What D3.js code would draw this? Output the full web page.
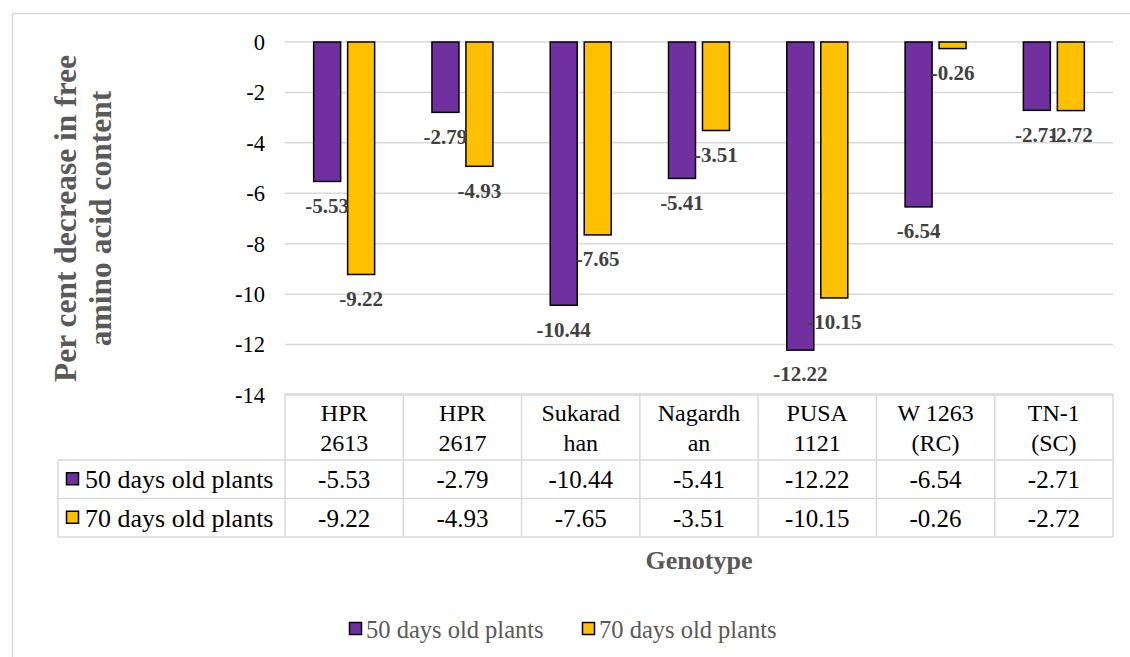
<!DOCTYPE html>
<html>
<head>
<meta charset="utf-8">
<script src="https://cdn.jsdelivr.net/npm/d3@7"></script>
<style>
  body { margin: 0; background: #fff; }
  text { font-family: "Liberation Serif", "Times New Roman", serif; }
</style>
</head>
<body>
<div class="canvas"></div>
<script>
// chart data
const genotypes = ['HPR 2613', 'HPR 2617', 'Sukaradhan', 'Nagardhan', 'PUSA 1121', 'W 1263 (RC)', 'TN-1 (SC)'];
// header cells in the data table are wrapped onto two lines
const genotypeLines = [['HPR', '2613'], ['HPR', '2617'], ['Sukarad', 'han'], ['Nagardh', 'an'],
  ['PUSA', '1121'], ['W 1263', '(RC)'], ['TN-1', '(SC)']];
const seriesNames = ['50 days old plants', '70 days old plants'];
const days50 = [-5.53, -2.79, -10.44, -5.41, -12.22, -6.54, -2.71];
const days70 = [-9.22, -4.93, -7.65, -3.51, -10.15, -0.26, -2.72];
const yTicks = [0, -2, -4, -6, -8, -10, -12, -14];
const colours = ['#7030A0', '#FFC000'];

const seriesValues = [days50, days70];

const width = 1130, height = 657;
const plot = {left: 285, right: 1113, top: 42, bottom: 395};

const svg = d3.select('.canvas')
  .append('svg')
    .attr('width', width)
    .attr('height', height);

// outer chart border (runs off the right / bottom of the picture)
svg.append('rect')
  .attr('x', 12.5).attr('y', 13.5)
  .attr('width', 1140).attr('height', 700)
  .attr('fill', 'none')
  .attr('stroke', '#d9d9d9')
  .attr('stroke-width', 1.5);

//=========== SCALES ===========
const y = d3.scaleLinear()
  .domain([-14, 0])
  .range([plot.bottom, plot.top]);

const x = d3.scaleBand()
  .domain(genotypes)
  .range([plot.left, plot.right])
  .padding(0);

// bars inside each category
const xInner = d3.scaleBand()
  .domain(seriesNames)
  .range([0, x.bandwidth()])
  .paddingInner(0.206)
  .paddingOuter(0.843);

//=========== GRIDLINES + Y TICKS ===========
svg.append('g')
  .selectAll('line')
  .data(yTicks)
  .enter().append('line')
    .attr('x1', plot.left).attr('x2', plot.right)
    .attr('y1', d => y(d)).attr('y2', d => y(d))
    .attr('stroke', '#d9d9d9')
    .attr('stroke-width', 1.5);

svg.append('g')
  .selectAll('text')
  .data(yTicks)
  .enter().append('text')
    .attr('x', 265)
    .attr('y', d => y(d))
    .attr('dy', '0.35em')
    .attr('text-anchor', 'end')
    .attr('font-size', 22.5)
    .attr('fill', '#000')
    .text(d => d);

// y axis title
svg.append('text')
  .attr('transform', `translate(76, ${(plot.top + plot.bottom) / 2}) rotate(-90)`)
  .attr('text-anchor', 'middle')
  .attr('font-size', 31.5)
  .attr('font-weight', 'bold')
  .attr('fill', '#595959')
  .selectAll('tspan')
  .data(['Per cent decrease in free', 'amino acid content'])
  .enter().append('tspan')
    .attr('x', 0)
    .attr('dy', (d, i) => i === 0 ? 0 : 35)
    .text(d => d);

//=========== BARS ===========
const flat = [];
seriesValues.forEach((vals, s) => {
  vals.forEach((v, i) => flat.push({genotype: genotypes[i], series: seriesNames[s], s, value: v}));
});

svg.append('g')
  .selectAll('rect')
  .data(flat)
  .enter().append('rect')
    .attr('x', d => x(d.genotype) + xInner(d.series))
    .attr('y', y(0))
    .attr('width', xInner.bandwidth())
    .attr('height', d => y(d.value) - y(0))
    .attr('fill', d => colours[d.s])
    .attr('stroke', '#000')
    .attr('stroke-width', 1.5);

// data labels below bar ends
svg.append('g')
  .selectAll('text')
  .data(flat)
  .enter().append('text')
    .attr('x', d => x(d.genotype) + xInner(d.series) + xInner.bandwidth() / 2)
    .attr('y', d => y(d.value) + 24)
    .attr('dy', '0.35em')
    .attr('text-anchor', 'middle')
    .attr('font-size', 21)
    .attr('font-weight', 'bold')
    .attr('fill', '#404040')
    .text(d => d.value.toFixed(2));

//=========== DATA TABLE ===========
const table = {left: 58, top: 394, row1: 460, row2: 498.5, bottom: 537};
const grid = svg.append('g')
  .attr('stroke', '#d9d9d9')
  .attr('stroke-width', 1.5);

// horizontal lines
grid.append('line').attr('x1', plot.left).attr('x2', plot.right).attr('y1', table.top).attr('y2', table.top);
[table.row1, table.row2, table.bottom].forEach(yy => {
  grid.append('line').attr('x1', table.left).attr('x2', plot.right).attr('y1', yy).attr('y2', yy);
});
// vertical lines
const colEdges = genotypes.map(g => x(g)).concat([plot.right]);
grid.selectAll('line.v')
  .data(colEdges)
  .enter().append('line')
    .attr('class', 'v')
    .attr('x1', d => d).attr('x2', d => d)
    .attr('y1', table.top).attr('y2', table.bottom);
grid.append('line').attr('x1', table.left).attr('x2', table.left).attr('y1', table.row1).attr('y2', table.bottom);

// header cells
svg.append('g')
  .selectAll('text')
  .data(genotypes)
  .enter().append('text')
    .attr('x', d => x(d) + x.bandwidth() / 2)
    .attr('y', 413)
    .attr('text-anchor', 'middle')
    .attr('font-size', 24)
    .attr('fill', '#000')
    .each(function(d, i) {
      d3.select(this).selectAll('tspan')
        .data(genotypeLines[i])
        .enter().append('tspan')
          .attr('x', x(d) + x.bandwidth() / 2)
          .attr('dy', (t, j) => j === 0 ? '0.35em' : 30)
          .text(t => t);
    });

// value rows
const rowMid = [(table.row1 + table.row2) / 2, (table.row2 + table.bottom) / 2];
seriesValues.forEach((vals, s) => {
  const row = svg.append('g');
  row.append('rect')
    .attr('x', 66.5).attr('y', rowMid[s] - 6.5)
    .attr('width', 12).attr('height', 12)
    .attr('fill', colours[s])
    .attr('stroke', '#000')
    .attr('stroke-width', 1.5);
  row.append('text')
    .attr('x', 85).attr('y', rowMid[s]).attr('dy', '0.35em')
    .attr('font-size', 26)
    .attr('fill', '#000')
    .text(seriesNames[s]);
  row.selectAll('text.v')
    .data(vals)
    .enter().append('text')
      .attr('class', 'v')
      .attr('x', (d, i) => x(genotypes[i]) + x.bandwidth() / 2)
      .attr('y', rowMid[s]).attr('dy', '0.35em')
      .attr('text-anchor', 'middle')
      .attr('font-size', 25)
      .attr('fill', '#000')
      .text(d => d.toFixed(2));
});

// x axis title
svg.append('text')
  .attr('x', (plot.left + plot.right) / 2)
  .attr('y', 560).attr('dy', '0.35em')
  .attr('text-anchor', 'middle')
  .attr('font-size', 26)
  .attr('font-weight', 'bold')
  .attr('fill', '#595959')
  .text('Genotype');

//=========== LEGEND ===========
const legendX = [349, 582];
const legend = svg.append('g')
  .selectAll('g')
  .data(seriesNames)
  .enter().append('g')
    .attr('transform', (d, i) => `translate(${legendX[i]}, 629)`);
legend.append('rect')
  .attr('x', 0.5).attr('y', -6.5)
  .attr('width', 12).attr('height', 12)
  .attr('fill', (d, i) => colours[i])
  .attr('stroke', '#000')
  .attr('stroke-width', 1.5);
legend.append('text')
  .attr('x', 17).attr('dy', '0.35em')
  .attr('font-size', 24.5)
  .attr('fill', '#595959')
  .text(d => d);
</script>
</body>
</html>
